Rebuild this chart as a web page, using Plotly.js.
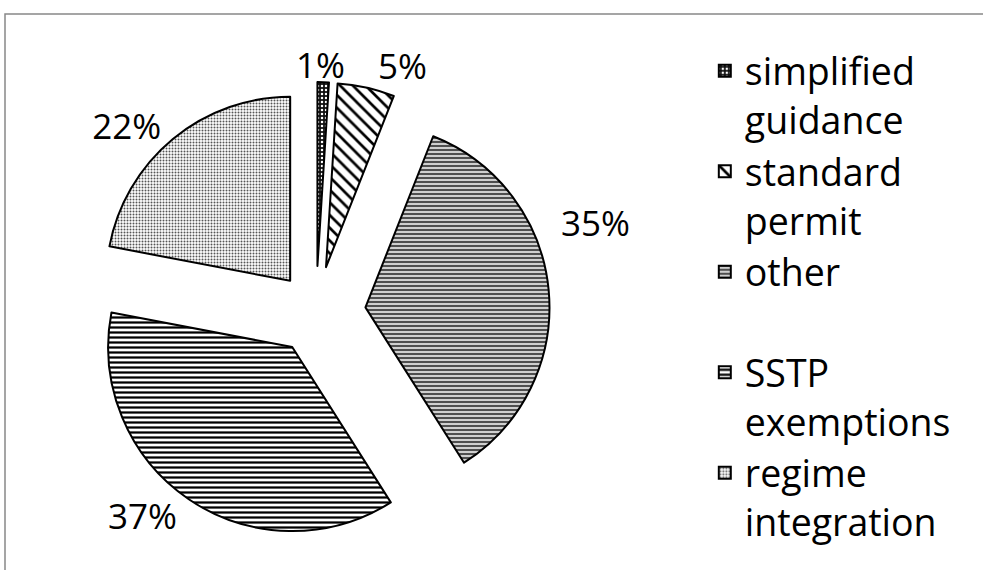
<!DOCTYPE html>
<html>
<head>
<meta charset="utf-8">
<script src="https://cdn.plot.ly/plotly-3.0.1.min.js"></script>
<style>html,body{margin:0;padding:0;background:#fff;}#chart{width:983px;height:570px;}</style>
</head>
<body>
<div id="chart"></div>
<script>
// Data
var categories = ['simplified<br>guidance', 'standard<br>permit', 'other<br>\u00a0', 'SSTP<br>exemptions', 'regime<br>integration'];
var shares = [1, 5, 35, 37, 22];

// Styles
var pulls = [0.25, 0.25, 0.27, 0.23, 0.22];
var bgColors = ['#111111', '#ffffff', '#cfcfcf', '#ffffff', '#ffffff'];
var patShapes = ['.', '\\', '-', '-', '.'];
var patFg = ['#ffffff', '#000000', '#404040', '#000000', '#555555'];
var patSize = [4, 9, 4, 5, 3];
var patSolid = [0.3, 0.3, 0.45, 0.45, 0.35];

var FONT = 'Open Sans, Noto Sans, sans-serif';
var DOMAIN = {x: [0.0837, 0.5592], y: [0.0426, 0.8626]};
var total = shares.reduce(function (a, b) { return a + b; }, 0);
function pct(i) { return Math.round(shares[i] / total * 100) + '%'; }

var trace = {
  type: 'pie',
  labels: categories,
  values: shares,
  sort: false,
  direction: 'clockwise',
  rotation: 0,
  pull: pulls,
  textinfo: 'percent',
  textposition: ['none', 'outside', 'none', 'outside', 'outside'],
  outsidetextfont: {family: FONT, size: 35, color: '#000'},
  hoverinfo: 'label+percent',
  marker: {
    colors: bgColors,
    line: {color: '#000', width: 2},
    pattern: {
      shape: patShapes,
      fgcolor: patFg,
      bgcolor: bgColors,
      size: patSize,
      solidity: patSolid,
      fillmode: 'replace'
    }
  },
  domain: DOMAIN
};

function labelAnn(i, px, py) {
  return {
    xref: 'paper', yref: 'paper', x: px / 983, y: 1 - py / 570,
    xanchor: 'center', yanchor: 'middle', showarrow: false,
    text: pct(i),
    font: {family: FONT, size: 35, color: '#000'}
  };
}

var layout = {
  width: 983,
  height: 570,
  margin: {l: 0, r: 0, t: 0, b: 0, autoexpand: false},
  paper_bgcolor: '#fff',
  showlegend: true,
  legend: {
    x: 0.717, y: 0.93, xanchor: 'left', yanchor: 'top',
    font: {family: FONT, size: 37.5, color: '#000'},
    valign: 'top',
    bgcolor: 'rgba(0,0,0,0)'
  },
  annotations: [labelAnn(0, 320, 64), labelAnn(2, 595, 222)],
  shapes: [{
    type: 'rect', xref: 'paper', yref: 'paper',
    x0: 5 / 983, x1: 1.05, y0: -0.05, y1: 1 - 14 / 570,
    line: {color: '#888', width: 1.5}
  }]
};

Plotly.newPlot('chart', [trace], layout, {displayModeBar: false, staticPlot: true});
</script>
</body>
</html>
